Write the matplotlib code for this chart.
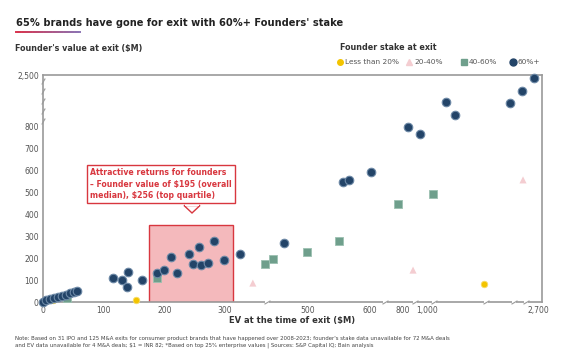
import numpy as np
import matplotlib.pyplot as plt
from matplotlib.patches import Rectangle, Polygon

# ---- data (EV at exit $M, founder's value at exit $M) ----
blue_x = [0, 5, 12, 18, 25, 31, 38, 44, 51, 56,
          115, 130, 140, 138, 163,
          188, 199, 221, 211, 241, 257, 247, 260, 272, 282, 298, 336, 442,
          556, 566, 606,
          842, 942, 1291, 1429, 2270, 2454, 2637]
blue_y = [0, 9, 14, 18, 23, 27, 32, 41, 45, 50,
          109, 100, 136, 68, 100,
          132, 145, 132, 205, 218, 250, 173, 168, 177, 277, 191, 218, 268,
          545, 555, 591,
          795, 764, 1600, 1167, 1567, 1967, 2400]
green_x = [40, 188, 396, 416, 498, 550, 770, 1092]
green_y = [18, 109, 173, 195, 227, 277, 445, 491]
pink_x = [367, 883, 2469]
pink_y = [86, 145, 555]
yellow_x = [16, 153, 1872]
yellow_y = [9, 9, 82]

x_ticks = [0, 100, 200, 300, 500, 600, 800, 1000, 2700]
x_ticklabels = ['0', '100', '200', '300', '500', '600', '800', '1,000', '2,700']
y_ticks = [0, 100, 200, 300, 400, 500, 600, 700, 800, 2500]
y_ticklabels = ['0', '100', '200', '300', '400', '500', '600', '700', '800', '2,500']

# broken axes -> piecewise linear scales
xk_data = [-100, 0, 300, 500, 600, 800, 1000, 2700, 2900]
xk_pos = [-61, 0, 182, 265, 327, 360, 384, 495, 508]
yk_data = [-100, 0, 800, 2500, 2700]
yk_pos = [-22, 0, 176, 227, 233]

def fx(v):
    return np.interp(v, xk_data, xk_pos)

def fx_inv(v):
    return np.interp(v, xk_pos, xk_data)

def fy(v):
    return np.interp(v, yk_data, yk_pos)

def fy_inv(v):
    return np.interp(v, yk_pos, yk_data)

navy = '#234468'
grey = '#9a9a9a'
red = '#d8373f'

fig = plt.figure(figsize=(5.65, 3.6), dpi=100)
ax = fig.add_axes([43 / 565, 1 - 302 / 360, 499 / 565, 227 / 360])
ax.set_xscale('function', functions=(fx, fx_inv))
ax.set_yscale('function', functions=(fy, fy_inv))
ax.set_xlim(0, 2760)
ax.set_ylim(0, 2500)

# highlight rectangle behind points
ax.add_patch(Rectangle((175, 0), 143, 350, facecolor='#f4b9bc', edgecolor=red,
                       linewidth=1.0, zorder=1))

ax.scatter(yellow_x, yellow_y, s=22, marker='o', color='#f3c400', edgecolor='#f7dc6a',
           linewidth=0.6, zorder=3, clip_on=False)
ax.scatter(pink_x, pink_y, s=26, marker='^', color='#f4cdd1', edgecolor='none',
           zorder=3, clip_on=False)
ax.scatter(green_x, green_y, s=26, marker='s', color='#6f9f8c', edgecolor='#9cc0b1',
           linewidth=0.6, zorder=3, clip_on=False)
ax.scatter(blue_x, blue_y, s=38, marker='o', color=navy, edgecolor='#6d89a6',
           linewidth=0.8, zorder=4, clip_on=False)

for side in ['left', 'right', 'top', 'bottom']:
    ax.spines[side].set_color(grey)
    ax.spines[side].set_linewidth(1.2)

ax.set_xticks(x_ticks)
ax.set_xticklabels(x_ticklabels)
ax.set_yticks(y_ticks)
ax.set_yticklabels(y_ticklabels)
ax.minorticks_off()
ax.tick_params(length=0, labelsize=5.5, labelcolor='#555555', pad=3)

# axis break marks
xb = [400, 690, 900, 1110, 1900, 2330, 2520]
for b in xb:
    ax.plot([b], [0], marker=(2, 0, -60), markersize=5, color=grey, mew=0.8,
            transform=ax.get_xaxis_transform(), clip_on=False, zorder=5)
    ax.plot([b], [0], marker='s', markersize=2.5, color='white', mew=0,
            transform=ax.get_xaxis_transform(), clip_on=False, zorder=4.5)
yb = [2300, 1970, 1640, 1300, 960]
for b in yb:
    ax.plot([0], [b], marker=(2, 0, -30), markersize=5, color=grey, mew=0.8,
            transform=ax.get_yaxis_transform(), clip_on=False, zorder=5)

# callout box
fig.text(90 / 565, 1 - 184 / 360,
         'Attractive returns for founders\n\u2013 Founder value of $195 (overall\nmedian), $256 (top quartile)',
         fontsize=5.6, fontweight='bold', color=red, ha='left', va='center', linespacing=1.3,
         bbox=dict(boxstyle='square,pad=0.45', facecolor='white', edgecolor=red, linewidth=1.0))
fig.patches.append(Polygon([[184 / 565, 1 - 205.5 / 360], [200 / 565, 1 - 205.5 / 360],
                            [192 / 565, 1 - 213 / 360]], closed=True, facecolor='white',
                           edgecolor=red, linewidth=1.0, transform=fig.transFigure))
fig.patches.append(Rectangle((184.8 / 565, 1 - 205.9 / 360), 14.4 / 565, 1.5 / 360,
                             facecolor='white', edgecolor='none', transform=fig.transFigure))

# titles and labels
fig.text(16 / 565, 1 - 23 / 360, "65% brands have gone for exit with 60%+ Founders' stake",
         fontsize=7.1, fontweight='bold', color='#222222', va='center')
xs = np.linspace(16, 80, 30)
for i in range(len(xs) - 1):
    t = i / (len(xs) - 2)
    c = (0.85 * (1 - t) + 0.55 * t, 0.2 * (1 - t) + 0.45 * t, 0.3 * (1 - t) + 0.7 * t)
    fig.add_artist(plt.Line2D([xs[i] / 565, xs[i + 1] / 565], [1 - 32 / 360] * 2,
                              color=c, linewidth=1.4, transform=fig.transFigure))
fig.text(15 / 565, 1 - 48 / 360, "Founder's value at exit ($M)", fontsize=5.8,
         fontweight='bold', color='#333333', va='center')
fig.text(340 / 565, 1 - 47 / 360, 'Founder stake at exit', fontsize=5.8,
         fontweight='bold', color='#333333', va='center')

leg_y = 1 - 62 / 360
items = [('o', '#f3c400', 'Less than 20%', 340), ('^', '#f4cdd1', '20-40%', 409),
         ('s', '#6f9f8c', '40-60%', 464), ('o', navy, '60%+', 513)]
for mk, col, lab, px in items:
    fig.add_artist(plt.Line2D([px / 565], [leg_y], marker=mk, color=col, markersize=4 if col != navy else 5,
                              linestyle='none', transform=fig.transFigure))
    fig.text((px + 5) / 565, leg_y, lab, fontsize=5.3, color='#555555', va='center')

fig.text(292 / 565, 1 - 320 / 360, 'EV at the time of exit ($M)', fontsize=6,
         fontweight='bold', color='#333333', ha='center', va='center')
fig.text(15 / 565, 1 - 342 / 360,
         "Note: Based on 31 IPO and 125 M&A exits for consumer product brands that have happened over 2008-2023; founder's stake data unavailable for 72 M&A deals\n"
         "and EV data unavailable for 4 M&A deals; $1 = INR 82; *Based on top 25% enterprise values | Sources: S&P Capital IQ; Bain analysis",
         fontsize=3.9, color='#444444', va='center', linespacing=1.4)

fig.savefig('out.png', dpi=100)
